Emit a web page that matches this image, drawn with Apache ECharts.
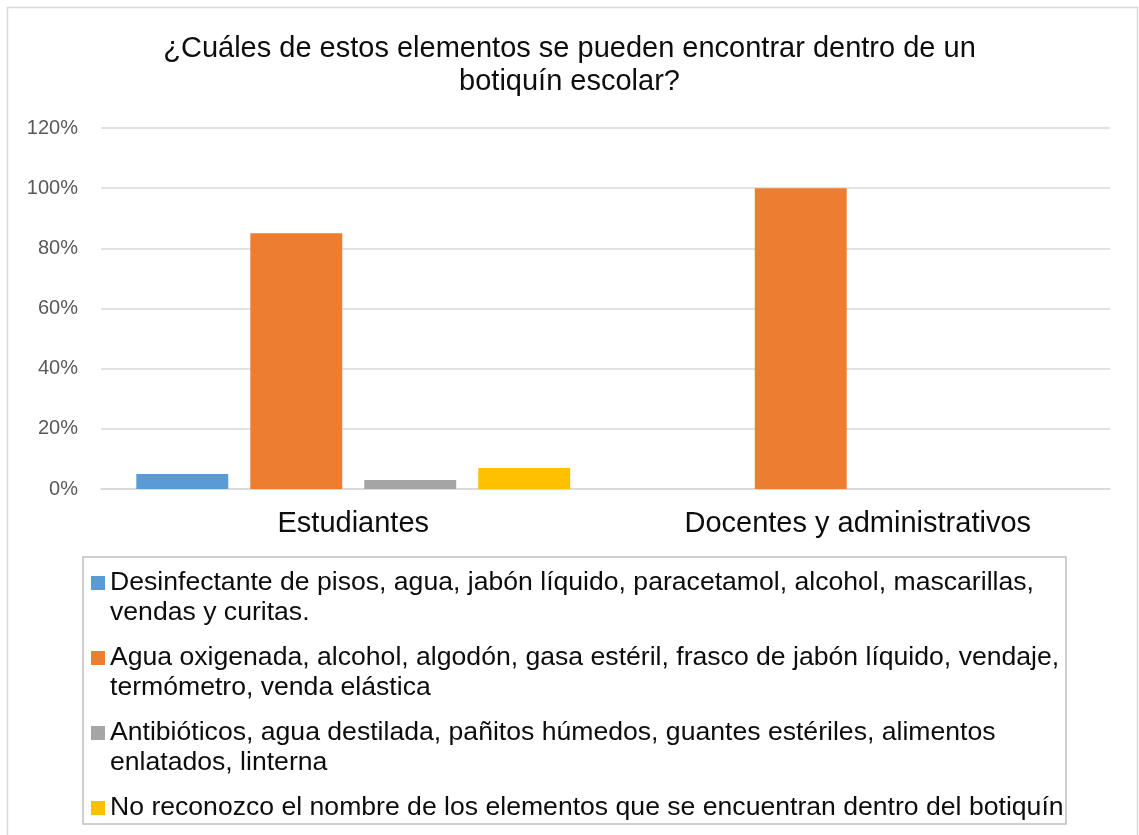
<!DOCTYPE html>
<html>
<head>
<meta charset="utf-8">
<script src="https://cdn.jsdelivr.net/npm/echarts@6/dist/echarts.min.js"></script>
<style>
  html, body { margin: 0; padding: 0; background: #fff; }
  #chart { width: 1139px; height: 835px; }
</style>
</head>
<body>
<div id="chart"></div>
<script>
// categories and values (fractions, shown as %)
var categories = ["Estudiantes", "Docentes y administrativos"];
var seriesNames = [
  "Desinfectante de pisos, agua, jabón líquido, paracetamol, alcohol, mascarillas, vendas y curitas.",
  "Agua oxigenada, alcohol, algodón, gasa estéril, frasco de jabón líquido, vendaje, termómetro, venda elástica",
  "Antibióticos, agua destilada, pañitos húmedos, guantes estériles, alimentos enlatados, linterna",
  "No reconozco el nombre de los elementos que se encuentran dentro del botiquín"
];
// how the legend text wraps in the picture
var legendLines = [
  ["Desinfectante de pisos, agua, jabón líquido, paracetamol, alcohol, mascarillas,", "vendas y curitas."],
  ["Agua oxigenada, alcohol, algodón, gasa estéril, frasco de jabón líquido, vendaje,", "termómetro, venda elástica"],
  ["Antibióticos, agua destilada, pañitos húmedos, guantes estériles, alimentos", "enlatados, linterna"],
  ["No reconozco el nombre de los elementos que se encuentran dentro del botiquín"]
];
var desinfectante = [0.05, 0];
var aguaOxigenada = [0.85, 1.00];
var antibioticos = [0.03, 0];
var noReconozco = [0.07, 0];
var seriesValues = [desinfectante, aguaOxigenada, antibioticos, noReconozco];
var colors = ["#5b9bd5", "#ed7d31", "#a5a5a5", "#ffc000"];

var font = "Liberation Sans, Arial, sans-serif";

var chart = echarts.init(document.getElementById("chart"));

chart.setOption({
  color: colors,
  textStyle: { fontFamily: font },
  animation: false,
  title: {
    text: "¿Cuáles de estos elementos se pueden encontrar dentro de un\nbotiquín escolar?",
    left: "center",
    top: 32,
    padding: 0,
    textStyle: { fontFamily: font, fontSize: 29, fontWeight: "normal", color: "#0d0d0d", lineHeight: 33 }
  },
  graphic: [
    { type: "rect", shape: { x: 7.5, y: 7.5, width: 1130, height: 900 }, style: { fill: "none", stroke: "#d9d9d9", lineWidth: 1.5 }, silent: true },
    { type: "rect", shape: { x: 83, y: 557, width: 983, height: 267 }, style: { fill: "none", stroke: "#bfbfbf", lineWidth: 1.5 }, silent: true }
  ],
  legend: {
    orient: "vertical",
    left: 91,
    top: 538,
    height: 400,
    padding: 0,
    itemGap: -15,
    itemWidth: 14,
    itemHeight: 14,
    icon: "rect",
    selectedMode: false,
    textStyle: { fontFamily: font, fontSize: 26.6, color: "#0d0d0d", lineHeight: 30 },
    data: seriesNames,
    formatter: function (name) {
      var lines = legendLines[seriesNames.indexOf(name)];
      // blank line on top so the first text line sits level with the square
      return lines.length === 2 ? "\n" + lines.join("\n") : "\n" + lines[0] + "\n";
    }
  },
  grid: {
    left: 101,
    right: 29,
    top: 128,
    bottom: 346
  },
  xAxis: {
    type: "category",
    data: categories,
    axisLine: { lineStyle: { color: "#d9d9d9", width: 1.5 } },
    axisTick: { show: false },
    axisLabel: { fontFamily: font, fontSize: 29, color: "#0d0d0d", margin: 20 }
  },
  yAxis: {
    type: "value",
    min: 0,
    max: 1.2,
    interval: 0.2,
    axisLine: { show: false },
    axisTick: { show: false },
    splitLine: { lineStyle: { color: "#d9d9d9", width: 1.5 } },
    axisLabel: {
      fontFamily: font, fontSize: 20, color: "#595959", margin: 23,
      formatter: function (v) { return Math.round(v * 100) + "%"; }
    }
  },
  series: seriesNames.map(function (n, i) {
    return {
      name: n,
      type: "bar",
      data: seriesValues[i],
      barGap: "24%",
      barCategoryGap: "14%"
    };
  })
});
</script>
</body>
</html>
